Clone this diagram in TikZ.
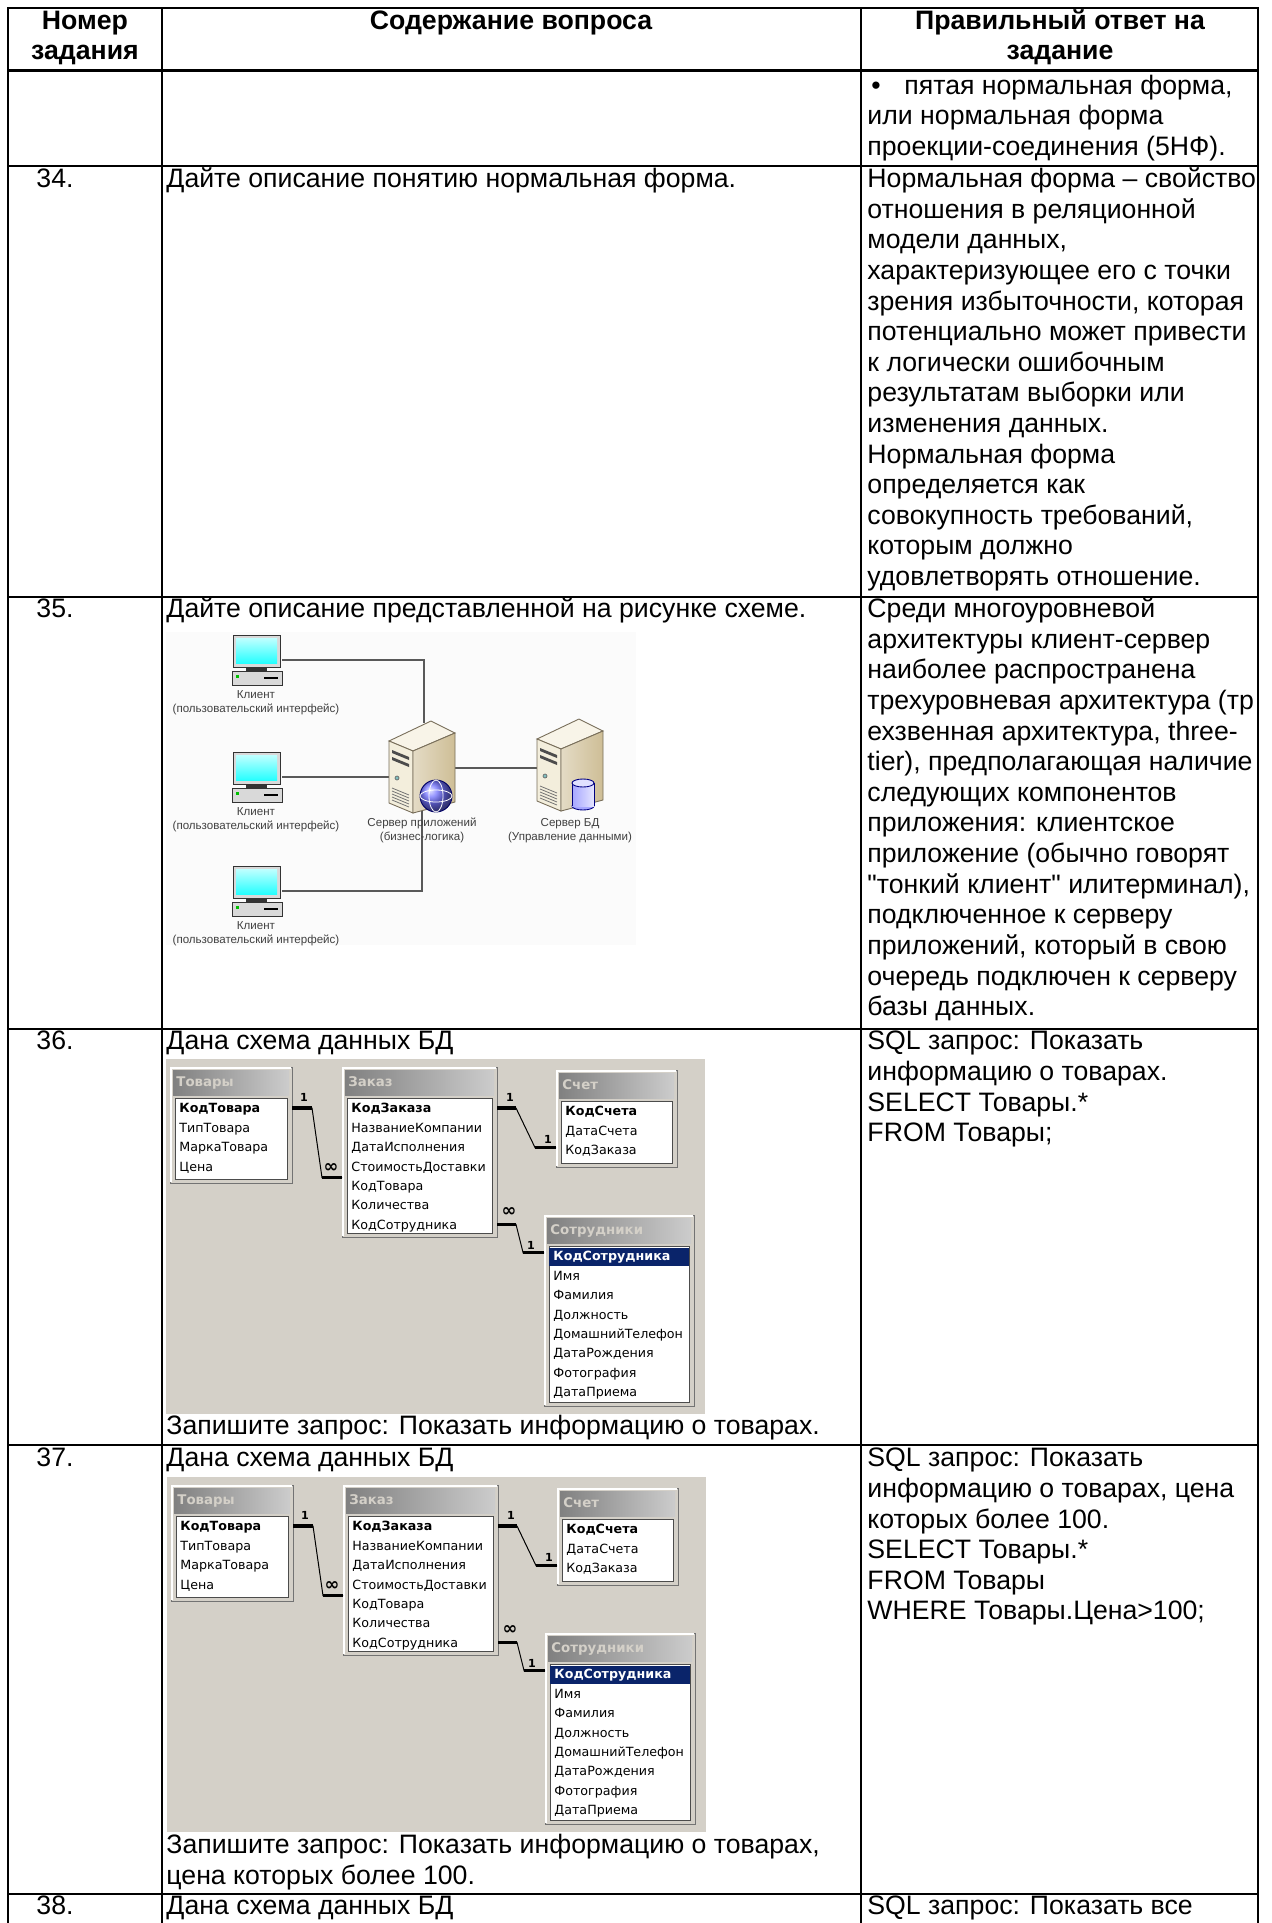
\documentclass[tikz,border=0pt]{standalone}
\usepackage{fontspec}
\newfontfamily\arialf{Liberation Sans}
\newfontfamily\tahomaf{DejaVu Sans}

\definecolor{accbg}{RGB}{212,208,200}
\definecolor{accnavy}{RGB}{10,36,106}
\definecolor{titledark}{RGB}{128,128,128}
\definecolor{titlelight}{RGB}{204,204,204}
\definecolor{netbg}{RGB}{251,251,251}
\definecolor{srvfront}{RGB}{243,238,220}
\definecolor{srvside}{RGB}{206,190,150}
\definecolor{srvtop}{RGB}{248,244,232}
\definecolor{srvedge}{RGB}{120,110,90}

\tikzset{
  txt/.style={anchor=mid west, inner sep=0pt, font=\arialf\fontsize{12}{14}\selectfont},
  hdr/.style={anchor=mid, inner sep=0pt, font=\arialf\bfseries\fontsize{12}{14}\selectfont},
  tabline/.style={line width=1.2pt, line cap=rect},
  netlabel/.style={inner sep=0pt, anchor=mid, font=\arialf\fontsize{5.2}{6}\selectfont, text=black!75},
  netconn/.style={draw=black!65, line width=0.5pt},
  pcbox/.style={fill=gray!30, draw=gray!40!black, line width=0.4pt},
  srvline/.style={draw=srvedge, line width=0.4pt},
  acctab/.style={fill=accbg, draw=black!55, line width=0.45pt},
  acclist/.style={fill=white, draw=black!70, line width=0.45pt},
  acctitle/.style={anchor=mid west, inner sep=0pt, text=accbg, font=\tahomaf\bfseries\fontsize{6}{7}\selectfont},
  accfield/.style={anchor=mid west, inner sep=0pt, font=\tahomaf\fontsize{5.7}{7}\selectfont},
  relthin/.style={line width=0.45pt},
  relthick/.style={line width=1.4pt},
  relmark/.style={inner sep=0pt, anchor=mid, font=\tahomaf\bfseries\fontsize{5}{6}\selectfont},
  relmany/.style={inner sep=0pt, anchor=mid, font=\tahomaf\bfseries\fontsize{8}{8}\selectfont}
}

% client computer: name, x, y of the monitor
\newcommand{\clientpc}[3]{%
  \begin{scope}[shift={(#2,#3)}]
    \filldraw[pcbox] (-1,36) rectangle (49,50);
    \fill[black!80] (13,32) rectangle (34,36);
    \filldraw[pcbox] (0,0) rectangle (47,32);
    \shade[top color=cyan!25, bottom color=cyan!85] (3,3) rectangle (44,28);
    \fill[green!75!black] (3,40) rectangle (6,43);
    \draw[line width=1.2pt] (31,43) -- (45,43);
    \node[netlabel] (#1-l1) at (23,59) {Клиент};
    \node[netlabel] (#1-l2) at (23,73) {(пользовательский интерфейс)};
    \coordinate (#1) at (49,25);
  \end{scope}}

% server tower: name, x, y of the front top corner
\newcommand{\servertower}[3]{%
  \begin{scope}[shift={(#2,#3)}]
    \filldraw[srvline, fill=srvtop] (0,0) -- (42,-20) -- (66,-8) -- (24,10) -- cycle;
    \filldraw[srvline, fill=srvfront] (0,0) -- (24,10) -- (24,72) -- (0,62) -- cycle;
    \shadedraw[srvline, left color=srvside!55!white, right color=srvside] (24,10) -- (66,-8) -- (66,61) -- (24,72) -- cycle;
    \foreach \v in {9,16}
      \fill[black!70] (3,\v) -- (20,\v+7) -- (20,\v+10) -- (3,\v+3) -- cycle;
    \filldraw[fill=teal!50, draw=black!60, line width=0.3pt] (8,37) circle (2);
    \foreach \v in {47,50,...,59}
      \draw[black!55, line width=0.35pt] (3,\v) -- (20,\v+7);
    \node[inner sep=0pt] (#1) at (33,26) {};
  \end{scope}}

% access table frame: name, x1, y1, x2, y2, title
\newcommand{\acctable}[6]{%
  \filldraw[acctab] (#2,#3) rectangle (#4,#5);
  \draw[white, line width=0.5pt] (#2+1,#5-1) -- (#2+1,#3+1) -- (#4-1,#3+1);
  \shade[left color=titledark, right color=titlelight] (#2+3,#3+3) rectangle (#4-3,#3+28);
  \node[acctitle] (#1) at (#2+6,#3+15) {#6};
  \filldraw[acclist] (#2+5,#3+31) rectangle (#4-5,#5-4);}

% access table fields: name, x1, y1, x2, list
\newcommand{\accfields}[5]{%
  \foreach \f [count=\k from 0] in {#5} {
    \node[accfield] (#1-\k) at (#2+9,{#3+41+19.4*\k}) {\f};
    \coordinate (#1-\k-w) at (#2,{#3+41+19.4*\k});
    \coordinate (#1-\k-e) at (#4,{#3+41+19.4*\k});
  }}

% data schema: prefix, dx, dy
\newcommand{\accschema}[3]{%
  \begin{scope}[shift={(#2,#3)}]
    \fill[accbg] (166,1059) rectangle (705,1414);
    \acctable{#1tov}{170}{1067}{292}{1183}{Товары}
    \accfields{#1tov}{170}{1067}{292}{{\bfseries КодТовара}, ТипТовара, МаркаТовара, Цена}
    \acctable{#1zak}{342}{1067}{497}{1237}{Заказ}
    \accfields{#1zak}{342}{1067}{497}{{\bfseries КодЗаказа}, НазваниеКомпании, ДатаИсполнения, СтоимостьДоставки, КодТовара, Количества, КодСотрудника}
    \acctable{#1sch}{556}{1070}{677}{1167}{Счет}
    \accfields{#1sch}{556}{1070}{677}{{\bfseries КодСчета}, ДатаСчета, КодЗаказа}
    \acctable{#1sot}{544}{1215}{694}{1406}{Сотрудники}
    \fill[accnavy] (549,1248) rectangle (689,1266);
    \accfields{#1sot}{544}{1215}{694}{{\bfseries\color{white}КодСотрудника}, Имя, Фамилия, Должность, ДомашнийТелефон, ДатаРождения, Фотография, ДатаПриема}

    \draw[relthin] (#1tov-0-e) -- ++(20,0) -- ([xshift=-9pt,yshift=3.6pt]#1zak-4-w) -- ([yshift=3.6pt]#1zak-4-w);
    \draw[relthick] (#1tov-0-e) -- ++(20,0);
    \draw[relthick] ([xshift=-9pt,yshift=3.6pt]#1zak-4-w) -- ([yshift=3.6pt]#1zak-4-w);
    \draw[relthin] (#1zak-0-e) -- ++(19,0) -- ([xshift=-9.4pt,yshift=0.9pt]#1sch-2-w) -- ([yshift=0.9pt]#1sch-2-w);
    \draw[relthick] (#1zak-0-e) -- ++(19,0);
    \draw[relthick] ([xshift=-9.4pt,yshift=0.9pt]#1sch-2-w) -- ([yshift=0.9pt]#1sch-2-w);
    \draw[relthin] (#1zak-6-e) -- ++(19,0) -- ([xshift=-9.4pt,yshift=1.4pt]#1sot-0-w) -- ([yshift=1.4pt]#1sot-0-w);
    \draw[relthick] (#1zak-6-e) -- ++(19,0);
    \draw[relthick] ([xshift=-9.4pt,yshift=1.4pt]#1sot-0-w) -- ([yshift=1.4pt]#1sot-0-w);

    \node[relmark] (#1m1) at (304,1097) {1};
    \node[relmany] (#1m2) at (331,1168) {∞};
    \node[relmark] (#1m3) at (510,1097) {1};
    \node[relmark] (#1m4) at (548,1139) {1};
    \node[relmany] (#1m5) at (509,1212) {∞};
    \node[relmark] (#1m6) at (531,1245) {1};
  \end{scope}}

\begin{document}
\begin{tikzpicture}[x=0.45pt, y=-0.45pt]
  \useasboundingbox (0,0) rectangle (1271,1923);
  \fill[white] (0,0) rectangle (1271,1923);

  % header
  \node[hdr] (h1a) at (85,25) {Номер};
  \node[hdr] (h1b) at (85,55) {задания};
  \node[hdr] (h2) at (511,25) {Содержание вопроса};
  \node[hdr] (h3a) at (1060,25) {Правильный ответ на};
  \node[hdr] (h3b) at (1060,55) {задание};

  \begin{scope}[every node/.style={txt}]
    \node (bul) at (871,90) {•};
    \node (nf1) at (904,90) {пятая нормальная форма,};
    \node (nf2) at (867,120) {или нормальная форма};
    \node (nf3) at (867,151) {проекции-соединения (5НФ).};

    \node (n34) at (36,183) {34.};
    \node (q34) at (166,183) {Дайте описание понятию нормальная форма.};
    \foreach \t [count=\i from 0] in {Нормальная форма – свойство, отношения в реляционной, {модели данных,}, характеризующее его с точки, {зрения избыточности, которая}, потенциально может привести, к логически ошибочным, результатам выборки или, изменения данных., Нормальная форма, определяется как, {совокупность требований,}, которым должно, удовлетворять отношение.}
      \node (a34-\i) at (867,{183+30.6*\i}) {\t};

    \node (n35) at (36,613) {35.};
    \node (q35) at (166,613) {Дайте описание представленной на рисунке схеме.};
    \foreach \t [count=\i from 0] in {Среди многоуровневой, архитектуры клиент-сервер, наиболее распространена, трехуровневая архитектура (тр, {ехзвенная архитектура, three-}, {tier), предполагающая наличие}, следующих компонентов, приложения: клиентское, приложение (обычно говорят, {"тонкий клиент" илитерминал),}, подключенное к серверу, {приложений, который в свою}, очередь подключен к серверу, базы данных.}
      \node (a35-\i) at (867,{613+30.6*\i}) {\t};

    \node (n36) at (36,1045) {36.};
    \node (q36) at (166,1045) {Дана схема данных БД};
    \node (w36) at (166,1430) {Запишите запрос: Показать информацию о товарах.};
    \foreach \t [count=\i from 0] in {SQL запрос: Показать, информацию о товарах., SELECT Товары.*, FROM Товары;}
      \node (a36-\i) at (867,{1045+30.6*\i}) {\t};

    \node (n37) at (36,1462) {37.};
    \node (q37) at (166,1462) {Дана схема данных БД};
    \node (w37a) at (166,1849) {Запишите запрос: Показать информацию о товарах,};
    \node (w37b) at (166,1880) {цена которых более 100.};
    \foreach \t [count=\i from 0] in {SQL запрос: Показать, {информацию о товарах, цена}, которых более 100., SELECT Товары.*, FROM Товары, WHERE Товары.Цена>100;}
      \node (a37-\i) at (867,{1462+30.6*\i}) {\t};

    \node (n38) at (36,1910) {38.};
    \node (q38) at (166,1910) {Дана схема данных БД};
    \node (a38) at (867,1910) {SQL запрос: Показать все};
  \end{scope}

  % client-server picture
  \fill[netbg] (166,632) rectangle (636,945);
  \coordinate (app-n) at (424,723);
  \coordinate (app-w) at (389,777);
  \coordinate (app-s) at (422,810);
  \coordinate (app-e) at (455,768);
  \coordinate (db-w) at (537,768);
  \clientpc{c1}{233}{635}
  \clientpc{c2}{233}{752}
  \clientpc{c3}{233}{866}
  \draw[netconn] (c1) -| (app-n);
  \draw[netconn] (c2) -- (app-w);
  \draw[netconn] (c3) -| (app-s);
  \draw[netconn] (app-e) -- (db-w);
  \servertower{app}{389}{741}
  \servertower{db}{537}{739}
  \shade[ball color=blue!55!white] (436,796) circle (16);
  \draw[blue!40!black, line width=0.4pt] (436,796) circle (16);
  \draw[white, line width=0.35pt] (436,796) ellipse (7 and 16) (436,796) ellipse (16 and 6);
  \filldraw[fill=blue!35!white, draw=blue!50!black, line width=0.4pt] (583,806) ellipse (11 and 4);
  \shade[left color=blue!35!white, right color=blue!10!white] (572,783) rectangle (594,806);
  \draw[blue!50!black, line width=0.4pt] (572,783) -- (572,806) (594,783) -- (594,806);
  \filldraw[fill=blue!12!white, draw=blue!50!black, line width=0.4pt] (583,783) ellipse (11 and 4);
  \node[netlabel] (app-l1) at (422,822) {Сервер приложений};
  \node[netlabel] (app-l2) at (422,836) {(бизнес-логика)};
  \node[netlabel] (db-l1) at (570,822) {Сервер БД};
  \node[netlabel] (db-l2) at (570,836) {(Управление данными)};

  % data schemas
  \accschema{a}{0}{0}
  \accschema{b}{1}{418}

  % table grid
  \foreach \y in {8,70.5,166,597,1029,1445,1894}
    \draw[tabline] (8,\y) -- (1258,\y);
  \foreach \x in {8,162,861,1258}
    \draw[tabline] (\x,8) -- (\x,1930);
\end{tikzpicture}
\end{document}
